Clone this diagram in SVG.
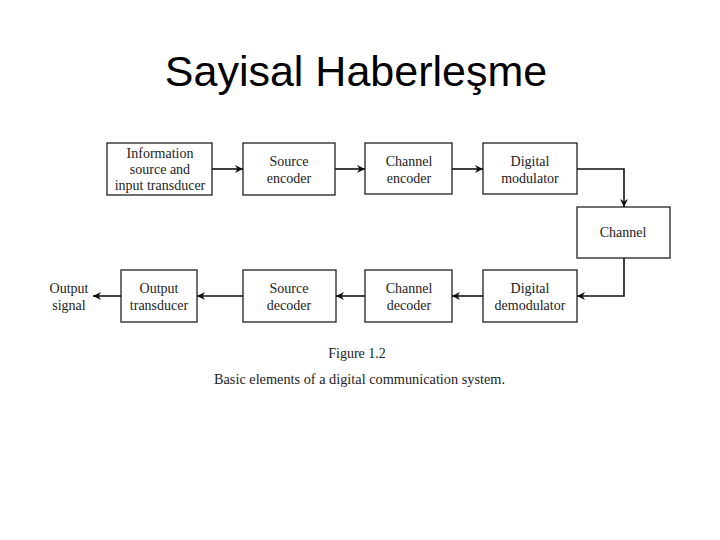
<svg xmlns="http://www.w3.org/2000/svg" width="720" height="540" viewBox="0 0 720 540">
<style>
.box{fill:#fff;stroke:#222;stroke-width:1.3}
.t{font-family:"Liberation Serif","DejaVu Serif",serif;font-size:14px;fill:#222;text-anchor:middle}
.c{fill:none;stroke:#111;stroke-width:1.6}
.title{font-family:"Liberation Sans",Arial,sans-serif;font-size:43px;fill:#000;text-anchor:middle}
</style>
<defs>
<marker id="ah" viewBox="0 0 10 10" refX="10" refY="5" markerWidth="8" markerHeight="8" markerUnits="userSpaceOnUse" orient="auto">
<path d="M0,0 L10,5 L0,10 L3,5 Z" fill="#111"/>
</marker>
</defs>
<rect width="720" height="540" fill="#fff"/>
<text class="title" x="356" y="86">Sayisal Haberleşme</text>
<g id="info"><rect class="box" x="107" y="143" width="105" height="52"/><text class="t" x="160" y="158">Information</text><text class="t" x="160" y="174">source and</text><text class="t" x="160" y="190">input transducer</text></g>
<g id="srcenc"><rect class="box" x="243" y="143" width="92" height="52"/><text class="t" x="289" y="166">Source</text><text class="t" x="289" y="183">encoder</text></g>
<g id="chenc"><rect class="box" x="365" y="143" width="87" height="51"/><text class="t" x="409" y="166">Channel</text><text class="t" x="409" y="183">encoder</text></g>
<g id="mod"><rect class="box" x="483" y="143" width="94" height="51"/><text class="t" x="530" y="166">Digital</text><text class="t" x="530" y="183">modulator</text></g>
<g id="channel"><rect class="box" x="577" y="207" width="93" height="51"/><text class="t" x="623" y="237">Channel</text></g>
<g id="demod"><rect class="box" x="483" y="270" width="94" height="52"/><text class="t" x="530" y="293">Digital</text><text class="t" x="530" y="310">demodulator</text></g>
<g id="chdec"><rect class="box" x="365" y="270" width="87" height="52"/><text class="t" x="409" y="293">Channel</text><text class="t" x="409" y="310">decoder</text></g>
<g id="srcdec"><rect class="box" x="243" y="270" width="93" height="52"/><text class="t" x="289" y="293">Source</text><text class="t" x="289" y="310">decoder</text></g>
<g id="outtr"><rect class="box" x="121" y="270" width="76" height="52"/><text class="t" x="159" y="293">Output</text><text class="t" x="159" y="310">transducer</text></g>
<g id="outsig"><text class="t" x="69" y="293">Output</text><text class="t" x="69" y="310">signal</text></g>
<g id="connectors">
<path class="c" d="M212,169 H243" marker-end="url(#ah)"/>
<path class="c" d="M335,169 H365" marker-end="url(#ah)"/>
<path class="c" d="M452,169 H483" marker-end="url(#ah)"/>
<path class="c" d="M577,169 H624 V207" marker-end="url(#ah)"/>
<path class="c" d="M624,258 V296 H577" marker-end="url(#ah)"/>
<path class="c" d="M483,296 H452" marker-end="url(#ah)"/>
<path class="c" d="M365,296 H336" marker-end="url(#ah)"/>
<path class="c" d="M243,296 H197" marker-end="url(#ah)"/>
<path class="c" d="M121,296 H93" marker-end="url(#ah)"/>
</g>
<g id="caption">
<text class="t" x="357" y="358">Figure 1.2</text>
<text class="t" x="359.5" y="384" style="font-size:14.3px">Basic elements of a digital communication system.</text>
</g>
</svg>
